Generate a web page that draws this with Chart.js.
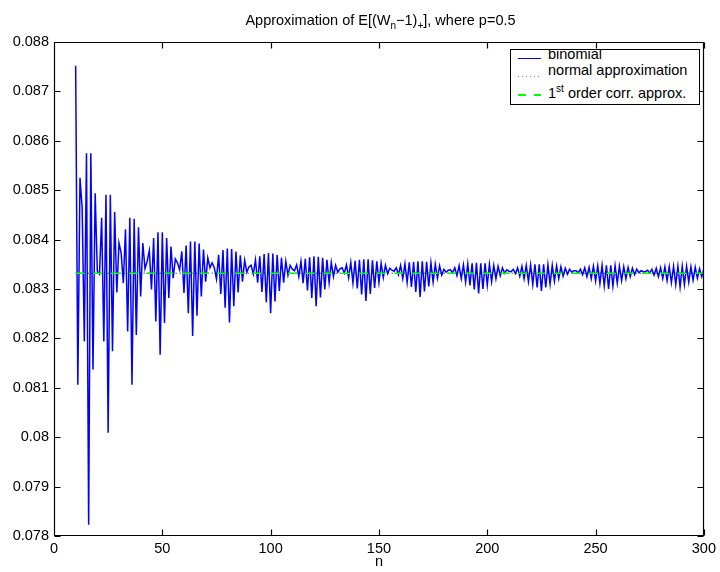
<!DOCTYPE html>
<html>
<head>
<meta charset="utf-8">
<script src="https://cdn.jsdelivr.net/npm/chart.js@4.4.1/dist/chart.umd.min.js"></script>
<style>
  body { margin: 0; background: #fff; }
  #wrap { position: relative; width: 720px; height: 572px; font-family: 'Liberation Sans', Arial, Helvetica, sans-serif; color: #000; }
  #chart { position: absolute; left: 0; top: 0; }
  #title { position: absolute; left: 54px; width: 653px; top: 12px; text-align: center; font-size: 14.5px; line-height: 17px; white-space: nowrap; }
  .sub { font-size: 10px; vertical-align: -4px; }
  .sup { font-size: 10px; vertical-align: 6px; }
  #legend { position: absolute; left: 510px; top: 49px; width: 190px; height: 56px; box-sizing: border-box; border: 1px solid #000; background: #fff; overflow: hidden; font-size: 14.5px; line-height: 17px; }
  #legend .t { position: absolute; left: 37px; white-space: nowrap; }
  #legend .s { position: absolute; left: 7px; width: 23px; height: 1px; }
</style>
</head>
<body>
<div id="wrap">
  <canvas id="chart" width="720" height="572"></canvas>
  <div id="title">Approximation of E[(W<span class="sub">n</span>−1)<span class="sub">+</span>], where p=0.5</div>
  <div id="legend">
    <div class="s" style="top:8px; background:#0000ff;"></div>
    <div class="t" style="top:-4px;">binomial</div>
    <div class="s" style="top:26px; background:repeating-linear-gradient(to right, #8a8a8a 0 1px, transparent 1px 4px);"></div>
    <div class="t" style="top:12px;">normal approximation</div>
    <div class="s" style="top:44px; height:1.5px; background:repeating-linear-gradient(to right, #00ff00 0 8px, transparent 8px 16px);"></div>
    <div class="t" style="top:30px;">1<span class="sup">st</span> order corr. approx.</div>
  </div>
</div>
<script>
// n runs from 10 to 300, one value per n
const nStart = 10;
const binomial = [
  0.08752, 0.08106, 0.08525, 0.08464, 0.08194, 0.08575, 0.07823, 0.08575, 0.08137, 0.08494,
  0.08336, 0.08330, 0.08444, 0.08194, 0.08491, 0.08009, 0.08491, 0.08174, 0.08456, 0.08293,
  0.08393, 0.08373, 0.08312, 0.08421, 0.08214, 0.08444, 0.08106, 0.08442, 0.08207, 0.08425,
  0.08285, 0.08393, 0.08341, 0.08356, 0.08378, 0.08299, 0.08403, 0.08234, 0.08415, 0.08167,
  0.08415, 0.08231, 0.08403, 0.08282, 0.08386, 0.08322, 0.08361, 0.08353, 0.08339, 0.08376,
  0.08292, 0.08388, 0.08251, 0.08396, 0.08205, 0.08396, 0.08246, 0.08392, 0.08285, 0.08380,
  0.08315, 0.08363, 0.08343, 0.08353, 0.08343, 0.08320, 0.08369, 0.08290, 0.08379, 0.08262,
  0.08382, 0.08232, 0.08381, 0.08265, 0.08376, 0.08293, 0.08368, 0.08315, 0.08358, 0.08334,
  0.08345, 0.08348, 0.08330, 0.08359, 0.08313, 0.08366, 0.08294, 0.08371, 0.08273, 0.08373,
  0.08251, 0.08372, 0.08275, 0.08369, 0.08296, 0.08363, 0.08313, 0.08356, 0.08328, 0.08348,
  0.08340, 0.08337, 0.08349, 0.08325, 0.08356, 0.08312, 0.08361, 0.08297, 0.08364, 0.08282,
  0.08366, 0.08265, 0.08365, 0.08283, 0.08363, 0.08299, 0.08359, 0.08313, 0.08354, 0.08325,
  0.08348, 0.08334, 0.08341, 0.08343, 0.08332, 0.08349, 0.08323, 0.08354, 0.08312, 0.08357,
  0.08301, 0.08359, 0.08289, 0.08360, 0.08276, 0.08360, 0.08290, 0.08358, 0.08302, 0.08356,
  0.08313, 0.08352, 0.08323, 0.08348, 0.08331, 0.08342, 0.08338, 0.08336, 0.08343, 0.08329,
  0.08348, 0.08321, 0.08351, 0.08313, 0.08354, 0.08304, 0.08355, 0.08294, 0.08356, 0.08284,
  0.08356, 0.08295, 0.08355, 0.08305, 0.08353, 0.08314, 0.08350, 0.08322, 0.08347, 0.08328,
  0.08340, 0.08334, 0.08338, 0.08339, 0.08333, 0.08343, 0.08327, 0.08347, 0.08321, 0.08349,
  0.08314, 0.08351, 0.08307, 0.08352, 0.08299, 0.08353, 0.08291, 0.08352, 0.08300, 0.08352,
  0.08308, 0.08350, 0.08315, 0.08348, 0.08321, 0.08346, 0.08327, 0.08343, 0.08332, 0.08339,
  0.08336, 0.08335, 0.08340, 0.08331, 0.08343, 0.08326, 0.08346, 0.08321, 0.08348, 0.08315,
  0.08349, 0.08309, 0.08350, 0.08303, 0.08350, 0.08296, 0.08350, 0.08303, 0.08349, 0.08310,
  0.08348, 0.08316, 0.08347, 0.08321, 0.08345, 0.08326, 0.08342, 0.08330, 0.08340, 0.08334,
  0.08337, 0.08337, 0.08333, 0.08340, 0.08329, 0.08343, 0.08325, 0.08344, 0.08321, 0.08346,
  0.08316, 0.08347, 0.08311, 0.08348, 0.08306, 0.08348, 0.08300, 0.08348, 0.08306, 0.08347,
  0.08312, 0.08346, 0.08317, 0.08345, 0.08321, 0.08344, 0.08325, 0.08342, 0.08329, 0.08340,
  0.08333, 0.08337, 0.08335, 0.08335, 0.08338, 0.08332, 0.08340, 0.08328, 0.08342, 0.08325,
  0.08343, 0.08321, 0.08345, 0.08317, 0.08345, 0.08313, 0.08346, 0.08309, 0.08346, 0.08304,
  0.08346, 0.08309, 0.08346, 0.08314, 0.08345, 0.08318, 0.08344, 0.08322, 0.08341, 0.08325,
  0.08341
];

// the two approximations are flat at the normal value
const approxN = [10, 300];
const normalApprox = [0.08332, 0.08332];
const corrApprox = [0.08332, 0.08332];

const xTicks = [0, 50, 100, 150, 200, 250, 300];
const yTicks = [0.078, 0.079, 0.08, 0.081, 0.082, 0.083, 0.084, 0.085, 0.086, 0.087, 0.088];

Chart.defaults.font.family = "'Liberation Sans', Arial, Helvetica, sans-serif";
Chart.defaults.font.size = 14.5;
Chart.defaults.color = '#000';

// box round the plot with inward ticks on all four sides
const frame = {
  id: 'frame',
  afterDatasetsDraw(chart) {
    const { ctx, chartArea: a, scales: { x, y } } = chart;
    const L = Math.round(a.left) + 0.5, R = Math.round(a.right) - 0.5;
    const T = Math.round(a.top) + 0.5, B = Math.round(a.bottom) - 0.5;
    ctx.save();
    ctx.strokeStyle = '#000';
    ctx.lineWidth = 1.2;
    ctx.beginPath();
    ctx.rect(L, T, R - L, B - T);
    x.ticks.forEach(t => {
      const px = Math.round(x.getPixelForValue(t.value)) + 0.5;
      ctx.moveTo(px, B); ctx.lineTo(px, B - 6);
      ctx.moveTo(px, T); ctx.lineTo(px, T + 6);
    });
    y.ticks.forEach(t => {
      const py = Math.round(y.getPixelForValue(t.value)) + 0.5;
      ctx.moveTo(L, py); ctx.lineTo(L + 6, py);
      ctx.moveTo(R, py); ctx.lineTo(R - 6, py);
    });
    ctx.stroke();
    ctx.restore();
  }
};

new Chart(document.getElementById('chart'), {
  type: 'line',
  data: {
    datasets: [
      {
        label: 'binomial',
        data: binomial.map((v, i) => ({ x: nStart + i, y: v })),
        borderColor: '#0000ff',
        borderWidth: 1.5,
        pointRadius: 0,
        tension: 0,
        order: 3
      },
      {
        label: 'normal approximation',
        data: approxN.map((n, i) => ({ x: n, y: normalApprox[i] })),
        borderColor: '#000000',
        borderDash: [1, 3],
        borderWidth: 1,
        pointRadius: 0,
        order: 2
      },
      {
        label: '1st order corr. approx.',
        data: approxN.map((n, i) => ({ x: n, y: corrApprox[i] })),
        borderColor: '#00ff00',
        borderDash: [9, 8.7],
        borderWidth: 1.4,
        pointRadius: 0,
        order: 1
      }
    ]
  },
  options: {
    responsive: false,
    animation: false,
    devicePixelRatio: 1,
    layout: { padding: { top: 42, right: 13, left: 0, bottom: 0 } },
    plugins: {
      legend: { display: false },
      title: { display: false },
      tooltip: { enabled: false }
    },
    scales: {
      x: {
        type: 'linear',
        min: 0,
        max: 300,
        afterBuildTicks: s => { s.ticks = xTicks.map(v => ({ value: v })); },
        afterFit: s => { s.height = 36; },
        grid: { display: false, drawTicks: false },
        border: { display: false },
        ticks: { padding: 4, maxRotation: 0, autoSkip: false, callback: v => String(v) },
        title: { display: true, text: 'n', padding: { top: 0, bottom: 1 } }
      },
      y: {
        type: 'linear',
        min: 0.078,
        max: 0.088,
        afterBuildTicks: s => { s.ticks = yTicks.map(v => ({ value: v })); },
        afterFit: s => { s.width = 54; },
        grid: { display: false, drawTicks: false },
        border: { display: false },
        ticks: { padding: 5, autoSkip: false, callback: v => String(parseFloat(Number(v).toFixed(3))) }
      }
    }
  },
  plugins: [frame]
});
</script>
</body>
</html>
